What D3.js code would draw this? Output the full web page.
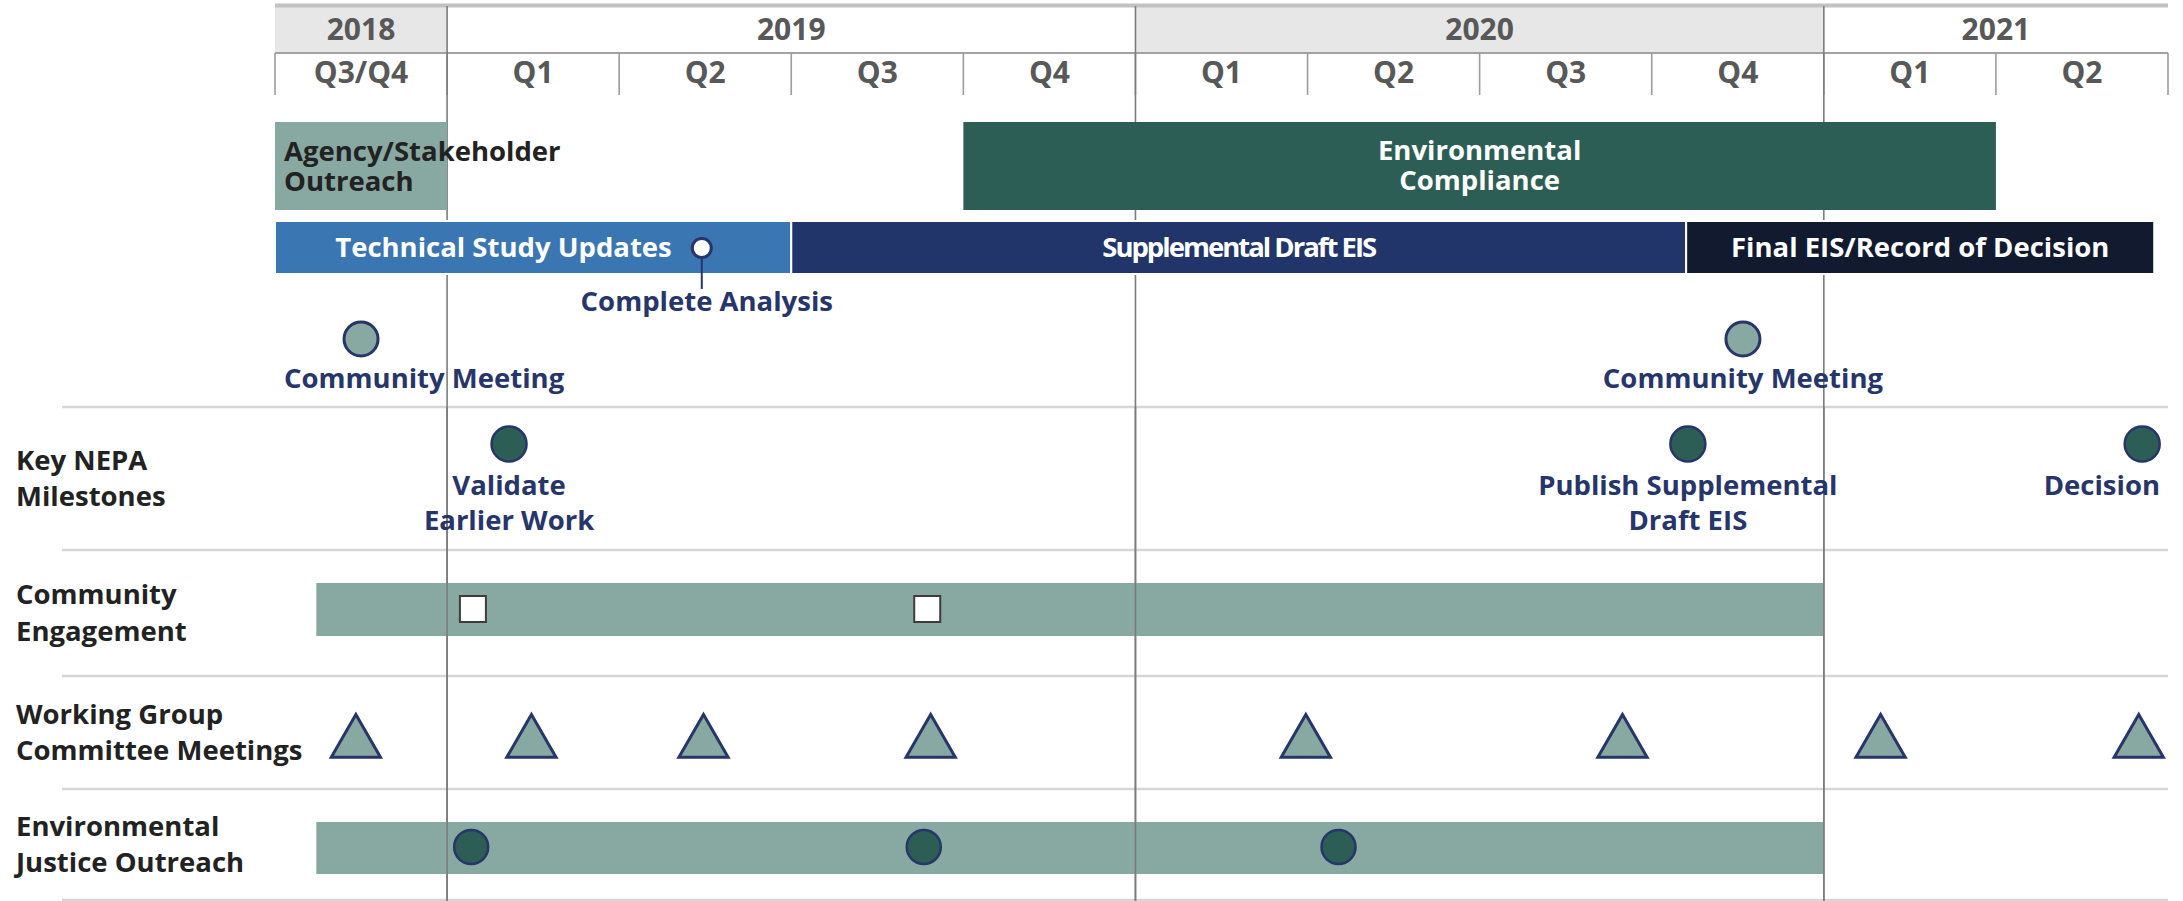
<!DOCTYPE html>
<html><head><meta charset="utf-8">
<script src="https://cdn.jsdelivr.net/npm/d3@7"></script>
<style>
html,body{margin:0;padding:0;background:#fff;}
svg{display:block;}
text{font-family:"Open Sans",sans-serif;font-weight:700;}
</style></head><body>
<svg id="chart" width="2183" height="901"></svg>
<script>
// ================= DATA =================
// time axis: one column per quarter, starting with the combined 2018 Q3/Q4 column (unit 0..11)
const years = ["2018", "2019", "2020", "2021"];
const yearStart = [0, 1, 5, 9];
const yearEnd = [1, 5, 9, 11];
const yearShaded = [true, false, true, false];
const quarterLabels = ["Q3/Q4", "Q1", "Q2", "Q3", "Q4", "Q1", "Q2", "Q3", "Q4", "Q1", "Q2"];

// upper boxes
const outreachLabel = ["Agency/Stakeholder", "Outreach"];
const outreachSpan = [0, 1];
const complianceLabel = ["Environmental", "Compliance"];
const complianceSpan = [4, 10];

// process bar
const phaseNames = ["Technical Study Updates", "Supplemental Draft EIS", "Final EIS/Record of Decision"];
const phaseStart = [0, 3, 8.2];
const phaseEnd = [3, 8.2, 10.92];

// upper milestones
const analysisLabel = "Complete Analysis";
const analysisAt = 2.48;
const meetingLabels = ["Community Meeting", "Community Meeting"];
const meetingAt = [0.5, 8.53];

// lower rows
const rowLabels = [["Key NEPA", "Milestones"], ["Community", "Engagement"], ["Working Group", "Committee Meetings"], ["Environmental", "Justice Outreach"]];
const nepaLabels = [["Validate", "Earlier Work"], ["Publish Supplemental", "Draft EIS"], ["Decision"]];
const nepaAt = [1.36, 8.21, 10.85];
const engagementSpan = [0.24, 9];
const engagementEvents = [1.15, 3.79];
const workingGroupAt = [0.47, 1.49, 2.49, 3.81, 5.99, 7.83, 9.33, 10.83];
const justiceSpan = [0.24, 9];
const justiceEvents = [1.14, 3.77, 6.18];

// ================= STYLE / LAYOUT =================
const C = {
  headerBg: "#e7e7e7", headerText: "#585858", headerLine: "#a3a3a3", topLine: "#c2c2c2",
  yearLine: "#7c7c7c", rowLine: "#d6d6d6",
  sage: "#88a8a2", teal: "#2d5e55", blue: "#3a76b2", navy: "#22356a", ink: "#121a30",
  labelNavy: "#26356a", dark: "#222222"
};
const W = 2183, H = 901;
const X0 = 275, X1 = 2168;
const svg = d3.select("#chart");
const x = d3.scaleLinear().domain([0, 11]).range([X0, X1]);
const rowEdges = [407, 550, 676, 789, 900];
const rowMid = i => (rowEdges[i] + rowEdges[i + 1]) / 2;
const FS = 27.5;

// ---------- header ----------
const hdr = svg.append("g");
hdr.selectAll("rect.yr").data(years).join("rect")
  .attr("x", (d, i) => x(yearStart[i])).attr("width", (d, i) => x(yearEnd[i]) - x(yearStart[i]))
  .attr("y", 6).attr("height", 47)
  .attr("fill", (d, i) => yearShaded[i] ? C.headerBg : "#fff");
hdr.append("line").attr("x1", X0).attr("x2", X1).attr("y1", 5.5).attr("y2", 5.5)
  .attr("stroke", C.topLine).attr("stroke-width", 4);
hdr.append("line").attr("x1", X0).attr("x2", X1).attr("y1", 53).attr("y2", 53)
  .attr("stroke", C.headerLine).attr("stroke-width", 2);
hdr.selectAll("text.yr").data(years).join("text")
  .attr("x", (d, i) => (x(yearStart[i]) + x(yearEnd[i])) / 2).attr("y", 40)
  .attr("text-anchor", "middle").attr("font-size", 30).attr("fill", C.headerText).text(d => d);
// quarter dividers (all column edges)
const qEdges = d3.range(0, 12);
hdr.selectAll("line.q").data(qEdges).join("line")
  .attr("x1", d => x(d)).attr("x2", d => x(d)).attr("y1", 53).attr("y2", 95)
  .attr("stroke", "#9c9c9c").attr("stroke-width", 1.6);
hdr.selectAll("text.q").data(quarterLabels).join("text")
  .attr("x", (d, i) => x(i + 0.5)).attr("y", 83)
  .attr("text-anchor", "middle").attr("font-size", 30).attr("fill", C.headerText).text(d => d);

// ---------- row separators ----------
svg.selectAll("line.row").data(rowEdges).join("line")
  .attr("x1", 62).attr("x2", X1).attr("y1", d => d).attr("y2", d => d)
  .attr("stroke", C.rowLine).attr("stroke-width", 2.5);

// ---------- year boundary lines (under upper boxes) ----------
const yearBounds = yearStart.slice(1);
svg.selectAll("line.yb").data(yearBounds).join("line")
  .attr("x1", d => x(d)).attr("x2", d => x(d)).attr("y1", 6).attr("y2", H)
  .attr("stroke", C.yearLine).attr("stroke-width", 1.6);

// ---------- upper boxes ----------
svg.append("rect").attr("x", x(outreachSpan[0])).attr("width", x(outreachSpan[1]) - x(outreachSpan[0]))
  .attr("y", 122).attr("height", 88).attr("fill", C.sage);
outreachLabel.forEach((s, i) => svg.append("text").attr("font-size", FS).attr("fill", C.dark)
  .attr("x", x(outreachSpan[0]) + 9).attr("y", 161 + i * 30).text(s));

svg.append("rect").attr("x", x(complianceSpan[0])).attr("width", x(complianceSpan[1]) - x(complianceSpan[0]))
  .attr("y", 122).attr("height", 88).attr("fill", C.teal);
complianceLabel.forEach((s, i) => svg.append("text").attr("font-size", FS).attr("fill", "#fff")
  .attr("text-anchor", "middle")
  .attr("x", (x(complianceSpan[0]) + x(complianceSpan[1])) / 2).attr("y", 160 + i * 30).text(s));

// ---------- process bar ----------
const phaseFill = [C.blue, C.navy, C.ink];
svg.selectAll("rect.ph").data(phaseNames).join("rect")
  .attr("x", (d, i) => x(phaseStart[i])).attr("width", (d, i) => x(phaseEnd[i]) - x(phaseStart[i]))
  .attr("y", 221).attr("height", 53).attr("fill", (d, i) => phaseFill[i])
  .attr("stroke", "#fff").attr("stroke-width", 2);
svg.selectAll("text.ph").data(phaseNames).join("text")
  .attr("x", (d, i) => i === 0 ? x(analysisAt) - 30 : (x(phaseStart[i]) + x(phaseEnd[i])) / 2)
  .attr("text-anchor", (d, i) => i === 0 ? "end" : "middle")
  .attr("y", 257).attr("font-size", FS).attr("fill", "#fff")
  .attr("letter-spacing", (d, i) => i === 1 ? -2 : 0)
  .text(d => d);

// complete analysis milestone
svg.append("line").attr("x1", x(analysisAt)).attr("x2", x(analysisAt)).attr("y1", 258).attr("y2", 289)
  .attr("stroke", C.labelNavy).attr("stroke-width", 2);
svg.append("circle").attr("cx", x(analysisAt)).attr("cy", 248).attr("r", 9.5)
  .attr("fill", "#fff").attr("stroke", C.labelNavy).attr("stroke-width", 3);

// helper: centred label, kept inside the timeline
function clampLabel(cx, lines, y0, dy) {
  lines.forEach((s, i) => {
    const t = svg.append("text").attr("font-size", FS).attr("fill", C.labelNavy)
      .attr("text-anchor", "middle").attr("x", cx).attr("y", y0 + i * dy).text(s);
    const w = t.node().getComputedTextLength();
    let c = Math.max(cx, X0 + 9 + w / 2);
    c = Math.min(c, X1 - 8 - w / 2);
    t.attr("x", c);
  });
}
clampLabel(x(analysisAt) + 5, [analysisLabel], 311, 0);

// community meetings
svg.selectAll("circle.cm").data(meetingAt).join("circle")
  .attr("cx", d => x(d)).attr("cy", 339).attr("r", 17)
  .attr("fill", C.sage).attr("stroke", C.labelNavy).attr("stroke-width", 3);
meetingAt.forEach((d, i) => clampLabel(x(d), [meetingLabels[i]], 388, 0));

// ---------- lower rows ----------
svg.append("rect").attr("x", x(engagementSpan[0])).attr("width", x(engagementSpan[1]) - x(engagementSpan[0]))
  .attr("y", 583).attr("height", 53).attr("fill", C.sage);
svg.append("rect").attr("x", x(justiceSpan[0])).attr("width", x(justiceSpan[1]) - x(justiceSpan[0]))
  .attr("y", 822).attr("height", 52).attr("fill", C.sage);

// year lines over the lower rows
svg.selectAll("line.yb2").data(yearBounds).join("line")
  .attr("x1", d => x(d)).attr("x2", d => x(d)).attr("y1", 407).attr("y2", H)
  .attr("stroke", C.yearLine).attr("stroke-width", 1.6);

// row labels
rowLabels.forEach((lines, i) => {
  lines.forEach((s, j) => svg.append("text").attr("font-size", FS).attr("fill", C.dark)
    .attr("x", 16).attr("y", rowMid(i) - 9 + j * 36.5).text(s));
});

// NEPA milestones
svg.selectAll("circle.nepa").data(nepaAt).join("circle")
  .attr("cx", d => x(d)).attr("cy", 444).attr("r", 17.5)
  .attr("fill", C.teal).attr("stroke", C.labelNavy).attr("stroke-width", 2.5);
nepaAt.forEach((d, i) => clampLabel(x(d), nepaLabels[i], 495, 35));

// engagement events
svg.selectAll("rect.ce").data(engagementEvents).join("rect")
  .attr("x", d => x(d) - 13).attr("y", 596).attr("width", 26).attr("height", 26)
  .attr("fill", "#fff").attr("stroke", "#3c3c3c").attr("stroke-width", 2);

// working group meetings
const tri = d3.symbol().type(d3.symbolTriangle).size(1050);
svg.selectAll("path.wg").data(workingGroupAt).join("path")
  .attr("d", tri).attr("transform", d => `translate(${x(d)},743)`)
  .attr("fill", C.sage).attr("stroke", C.labelNavy).attr("stroke-width", 3).attr("stroke-linejoin", "miter");

// EJ outreach events
svg.selectAll("circle.ej").data(justiceEvents).join("circle")
  .attr("cx", d => x(d)).attr("cy", 847).attr("r", 17)
  .attr("fill", C.teal).attr("stroke", C.labelNavy).attr("stroke-width", 2.5);
</script>
</body></html>
